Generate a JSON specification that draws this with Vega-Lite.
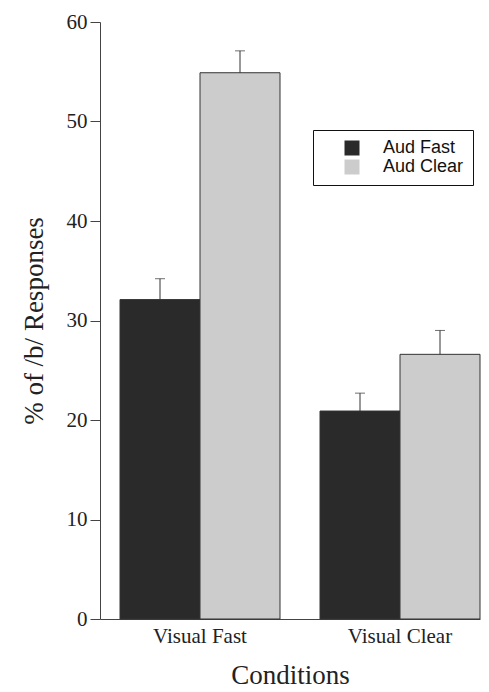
{
  "$schema": "https://vega.github.io/schema/vega-lite/v6.json",
  "width": 380,
  "height": 597,
  "autosize": {"type": "none"},
  "padding": {"left": 100, "top": 22, "right": 9, "bottom": 73},
  "background": "white",
  "config": {
    "view": {"stroke": null},
    "font": "Liberation Serif",
    "axis": {"titleFont": "Liberation Serif", "labelFont": "Liberation Serif", "titleFontWeight": "normal"}
  },
  "data": {
    "values": [
      {"condition": "Visual Fast", "aud": "Aud Fast", "value": 32.1, "upper": 34.2},
      {"condition": "Visual Fast", "aud": "Aud Clear", "value": 54.9, "upper": 57.1},
      {"condition": "Visual Clear", "aud": "Aud Fast", "value": 20.9, "upper": 22.7},
      {"condition": "Visual Clear", "aud": "Aud Clear", "value": 26.6, "upper": 29.0}
    ]
  },
  "encoding": {
    "x": {
      "field": "condition",
      "type": "nominal",
      "sort": ["Visual Fast", "Visual Clear"],
      "scale": {"paddingInner": 0.2, "paddingOuter": 0.05, "align": 1},
      "axis": {
        "title": "Conditions",
        "labelAngle": 0,
        "labelFont": "Liberation Serif",
        "labelFontSize": 21,
        "labelColor": "#222",
        "labelPadding": 6,
        "ticks": false,
        "domainColor": "#444",
        "domainWidth": 1,
        "titleFont": "Liberation Serif",
        "titleFontSize": 27,
        "titleFontWeight": "normal",
        "titleColor": "#222",
        "titlePadding": 16
      }
    },
    "xOffset": {"field": "aud", "type": "nominal", "sort": ["Aud Fast", "Aud Clear"], "scale": {"paddingInner": 0}}
  },
  "layer": [
    {
      "mark": {"type": "bar", "stroke": "#333", "strokeWidth": 1},
      "encoding": {
        "y": {
          "field": "value",
          "type": "quantitative",
          "scale": {"domain": [0, 60], "nice": false},
          "axis": {
            "title": "% of /b/ Responses",
            "values": [0, 10, 20, 30, 40, 50, 60],
            "grid": false,
            "labelFont": "Liberation Serif",
            "labelFontSize": 21,
            "labelColor": "#222",
            "labelPadding": 3,
            "tickSize": 10,
            "tickColor": "#444",
            "domainColor": "#444",
            "titleFont": "Liberation Serif",
            "titleFontSize": 27,
            "titleFontWeight": "normal",
            "titleColor": "#222",
            "titlePadding": 18
          }
        },
        "color": {
          "field": "aud",
          "type": "nominal",
          "sort": ["Aud Fast", "Aud Clear"],
          "scale": {"domain": ["Aud Fast", "Aud Clear"], "range": ["#2a2a2a", "#cccccc"]},
          "legend": {
            "title": " ",
            "titleOrient": "left",
            "titlePadding": 21,
            "titleFontSize": 10,
            "orient": "none",
            "legendX": 213,
            "legendY": 108,
            "direction": "vertical",
            "fillColor": "white",
            "strokeColor": "#111",
            "padding": 9,
            "symbolType": "square",
            "symbolSize": 225,
            "symbolStrokeWidth": 0,
            "labelFont": "Liberation Sans",
            "labelFontSize": 18,
            "labelColor": "#111",
            "labelOffset": 22,
            "rowPadding": 1
          }
        }
      }
    },
    {
      "mark": {"type": "rule", "stroke": "#333", "strokeWidth": 1},
      "encoding": {
        "y": {"field": "value", "type": "quantitative"},
        "y2": {"field": "upper"}
      }
    },
    {
      "mark": {"type": "tick", "color": "#333", "thickness": 1, "size": 10},
      "encoding": {
        "y": {"field": "upper", "type": "quantitative"}
      }
    }
  ]
}
